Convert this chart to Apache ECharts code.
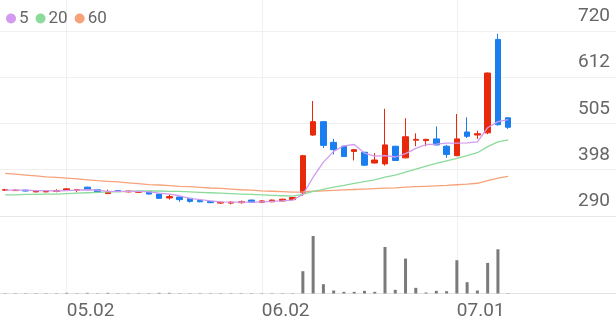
<!DOCTYPE html>
<html><head><meta charset="utf-8">
<script src="https://cdn.jsdelivr.net/npm/echarts@6/dist/echarts.min.js"></script>
<style>html,body{margin:0;padding:0;background:#fff}#c{width:616px;height:321px}</style>
</head><body><div id="c"></div>
<script>
// ---- data ----
const dates = ['04.23','04.24','04.25','04.28','04.29','04.30','05.02','05.07','05.08','05.09',
  '05.12','05.13','05.14','05.15','05.16','05.19','05.20','05.21','05.22','05.23',
  '05.26','05.27','05.28','05.29','05.30','06.02','06.04','06.05','06.09','06.10',
  '06.11','06.12','06.13','06.16','06.17','06.18','06.19','06.20','06.23','06.24',
  '06.25','06.26','06.27','06.30','07.01','07.02','07.03','07.04','07.07','07.08'];
const futureSlots = ['','','','','','','','','',''];
const labelDates = ['05.02','06.02','07.01'];

const openP  = [350,349,350,346,346,347,350,350,357,351,342,349,346,345,347,341,332,334,331,326,324,320,320,321,327,322,323,325,328,344,478,509,461,452,440,438,413,411,452,425,466,465,469,452,430,485,478,483,700,518];
const closeP = [351,350,348,347,347,349,353,351,351,345,345,347,348,347,341,331,335,328,324,323,321,322,322,323,322,325,327,329,333,430,509,454,444,428,444,408,420,455,419,474,468,468,455,433,469,475,481,622,502,496];
const lowP   = [349,348,347,345,345,345,349,345,350,344,341,346,345,344,340,330,328,323,321,322,320,318,317,319,321,320,322,324,327,337,476,448,433,427,419,406,412,407,418,424,452,452,454,425,429,471,469,480,500,492];
const highP  = [353,352,351,348,348,352,354,352,358,352,351,350,349,348,348,342,339,335,332,327,325,323,325,326,328,327,328,330,334,432,557,510,469,453,445,439,436,539,453,517,482,469,498,455,527,519,488,623,713,519];

const ma5  = [350,350,350,349,349,348,349,350,351,350,347,347,347,347,346,343,341,337,331,328,325,323,322,322,322,323,324,325,327,340,380,415,440,453,456,436,429,430,427,435,447,456,457,459,459,460,462,495,509,514];
const ma20 = [339,339,340,340,341,341,342,343,344,345,346,346,347,348,348,348,347,347,346,345,344,343,342,341,340,339,338,337,336,340,347,352,357,361,366,370,374,380,385,392,399,406,412,418,424,430,437,451,462,467];
const ma60 = [389,387,385,383,381,379.5,378,376,374,372,370.5,369,367,365,363,362,360.5,359,358,356.5,355,354,352.5,351,350,348.5,347.5,346.5,345.5,346,347.5,348.5,349.5,350.5,351.5,352.5,353.5,354.5,355.5,357,358,359,360,361,362.5,364,366,372,378,382];

const volume = [1,1,1,1,1,1,2,1,2,1,2,1,1,1,1,2,2,1,1,1,1,1,1,1,1,1,1,1,1,67,173,28,9,5,5,8,5,140,11,105,17,3,8,7,100,34,9,92,133,1];

const priceTickValues = [290,397.5,505,612.5,720];
const priceTickLabels = ['290','398','505','612','720'];

// ---- chart ----
const RED = '#e9290c', BLUE = '#1a7ef0';
const C5 = '#d29bef', C20 = '#8cdb9b', C60 = '#f8a279';
const cats = dates.concat(futureSlots);
const candle = dates.map((d, i) => [openP[i], closeP[i], lowP[i], highP[i]]);
const showLabel = (i, v) => labelDates.indexOf(v) >= 0;

const chart = echarts.init(document.getElementById('c'), null, {renderer: 'canvas'});
chart.setOption({
  animation: false,
  backgroundColor: '#fff',
  legend: {
    left: 1, top: 5, itemWidth: 10, itemHeight: 10, itemGap: 7, icon: 'circle',
    textStyle: {fontSize: 17, color: '#666', fontFamily: 'Roboto', padding: [0,0,0,-2]},
    data: ['5','20','60']
  },
  grid: [
    {left: 0, right: 0, top: 0, height: 216},
    {left: 0, right: 0, top: 216, bottom: 27.5}
  ],
  xAxis: [
    {type: 'category', gridIndex: 0, data: cats, boundaryGap: true,
     axisLine: {show: true, lineStyle: {color: '#e8e8e8'}}, axisTick: {show: false}, axisLabel: {show: false},
     splitLine: {show: true, interval: showLabel, alignWithLabel: true, lineStyle: {color: '#f0f0f0'}}},
    {type: 'category', gridIndex: 1, data: cats, boundaryGap: true,
     axisLine: {show: true, lineStyle: {color: '#e3e3e3'}}, axisTick: {show: false, alignWithLabel: true},
     axisLabel: {show: true, interval: showLabel, align: 'left', fontSize: 19, color: '#666', fontFamily: 'Roboto', margin: 8},
     splitLine: {show: true, interval: showLabel, alignWithLabel: true, lineStyle: {color: '#f0f0f0'}}}
  ],
  yAxis: [
    {type: 'value', gridIndex: 0, position: 'right', min: 290, max: 791.5, interval: 107.5, scale: true,
     axisLine: {show: false}, axisTick: {show: false},
     axisLabel: {inside: true, margin: 6, fontSize: 19, color: '#666', fontFamily: 'Roboto', verticalAlign: 'bottom', padding: [0,0,5,0],
       formatter: v => { for (let i = 0; i < priceTickValues.length; i++) if (Math.abs(v - priceTickValues[i]) < 0.01) return priceTickLabels[i]; return ''; }},
     splitLine: {show: true, lineStyle: {color: ['#f0f0f0','#f0f0f0','#f0f0f0','#f0f0f0','#f0f0f0','rgba(0,0,0,0)']}}},
    {type: 'value', gridIndex: 1, min: 0, max: 233, show: false, splitLine: {show: false}}
  ],
  series: [
    {name: '60', type: 'line', data: ma60, symbol: 'none', xAxisIndex: 0, yAxisIndex: 0,
     lineStyle: {color: C60, width: 1.3}, itemStyle: {color: C60}},
    {name: '20', type: 'line', data: ma20, symbol: 'none', xAxisIndex: 0, yAxisIndex: 0,
     lineStyle: {color: C20, width: 1.3}, itemStyle: {color: C20}},
    {name: '5', type: 'line', data: ma5, symbol: 'none', xAxisIndex: 0, yAxisIndex: 0,
     lineStyle: {color: C5, width: 1.3}, itemStyle: {color: C5}},
    {name: 'price', type: 'candlestick', data: candle, xAxisIndex: 0, yAxisIndex: 0, barWidth: 6,
     itemStyle: {color: RED, color0: BLUE, borderColor: RED, borderColor0: BLUE, borderWidth: 1}},
    {name: 'vol', type: 'bar', data: volume, xAxisIndex: 1, yAxisIndex: 1, barWidth: 3,
     itemStyle: {color: '#7a7a7a'}}
  ]
});
</script></body></html>
